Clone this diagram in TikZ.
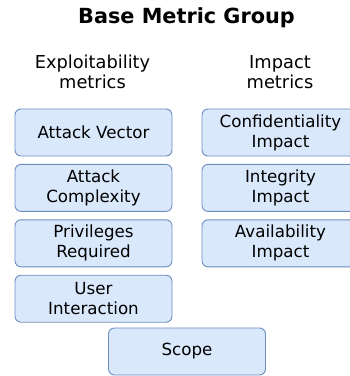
\documentclass[tikz,border=0pt]{standalone}
\usepackage{fontspec}
\setmainfont{DejaVu Sans}
\usetikzlibrary{positioning}
\definecolor{boxfill}{HTML}{DAE8FC}
\definecolor{boxline}{HTML}{6C8EBF}

\begin{document}
\begin{tikzpicture}[x=1pt, y=-1pt, node distance=7.5pt]
      \tikzstyle{metric} = [draw=boxline, fill=boxfill, rounded corners=6pt, line width=0.9pt,
        minimum width=157pt, minimum height=47pt, inner sep=0pt, align=center,
        font=\fontsize{16.7}{20}\selectfont]
      \tikzstyle{heading} = [align=center, font=\fontsize{17.8}{20}\selectfont]
      \useasboundingbox (0,0) rectangle (350,376);
      \clip (0,0) rectangle (350,376);
      \node (title) [anchor=base, font=\bfseries\fontsize{20.8}{24}\selectfont] at (186.5,23) {Base Metric Group};
      \node (exploit) [heading] at (92.5,72) {Exploitability\\metrics};
      \node (impact) [heading] at (280,72) {Impact\\metrics};
      % exploitability column
      \node (vector) [metric] at (93.5,132.5) {Attack Vector};
      \node (complexity) [metric, below=of vector] {Attack\\Complexity};
      \node (privileges) [metric, below=of complexity] {Privileges\\Required};
      \node (interaction) [metric, below=of privileges] {User\\Interaction};
      % impact column
      \node (confidentiality) [metric] at (280.5,132.5) {Confidentiality\\Impact};
      \node (integrity) [metric, below=of confidentiality] {Integrity\\Impact};
      \node (availability) [metric, below=of integrity] {Availability\\Impact};
      \node (scope) [metric] at (187,351.5) {Scope};
    \end{tikzpicture}
\end{document}
